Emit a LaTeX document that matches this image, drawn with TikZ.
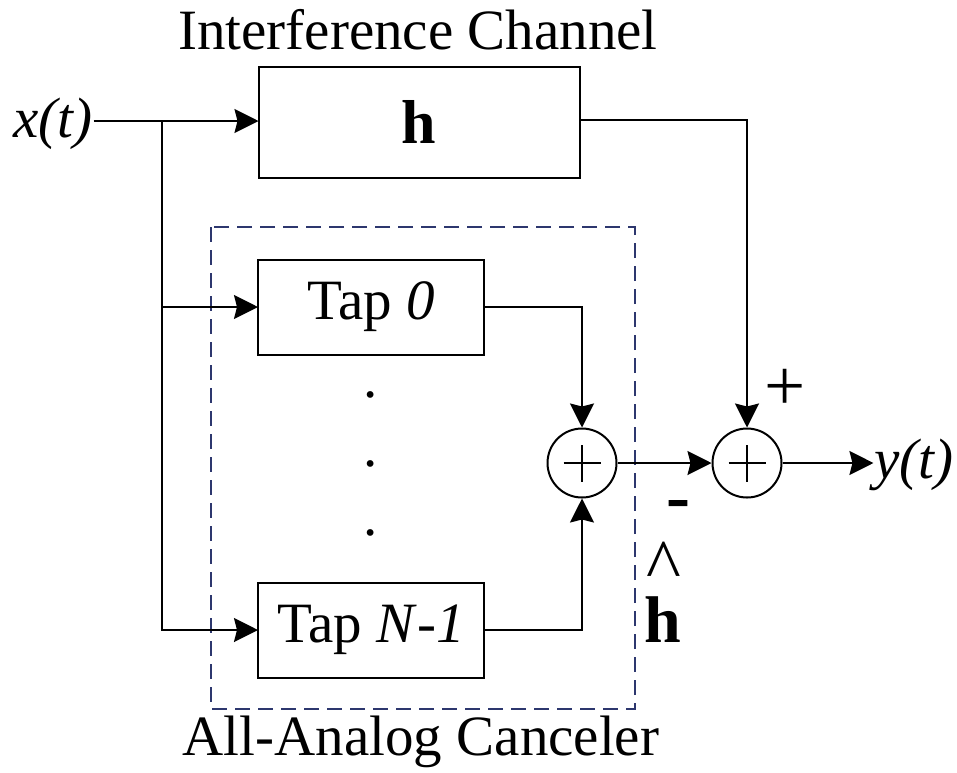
\documentclass[tikz,border=0pt]{standalone}
\usepackage{fontspec}
\setmainfont{Liberation Serif}
\usepackage{xcolor}
\usetikzlibrary{arrows.meta,positioning}
\definecolor{cancelblue}{RGB}{45,55,110}
\newcommand{\txtsize}[1]{\fontsize{#1}{#1}\selectfont}

\begin{document}
\begin{tikzpicture}[x=1pt,y=-1pt,line width=2pt,
  >={Stealth[length=24pt,width=24pt,inset=3pt]},
  font=\txtsize{57},
  blk/.style={draw,inner sep=0pt,outer sep=0pt},
  lbl/.style={inner sep=0pt,anchor=base},
  summer/.style={draw,circle,minimum size=69pt,inner sep=0pt},
  dashbox/.style={draw=cancelblue,line width=1.8pt,dash pattern=on 15pt off 8pt}]
\useasboundingbox (0,0) rectangle (957,772);
% channel and canceler blocks
\node[blk,minimum width=321pt,minimum height=111pt] (hbox) at (419,122) {\txtsize{62}\textbf{h}};
\node[lbl] (title) at (418,49) {Interference Channel};
\draw[dashbox] (211,227) rectangle (635,709);
\node[lbl] (cancel) at (421,755) {All-Analog Canceler};
\node[blk,minimum width=226pt,minimum height=95pt] (tap0) at (371,307) {Tap \textit{0}};
\node[blk,minimum width=226pt,minimum height=95pt] (tapN) at (371,630) {Tap \textit{N}-\textit{1}};
\node[inner sep=0pt] (d1) at (371,395) {.};
\node[inner sep=0pt] (d2) at (371,464) {.};
\node[inner sep=0pt] (d3) at (371,533) {.};
\node[summer] (sum1) at (582,463) {};
\node[summer] (sum2) at (747,463) {};
\foreach \s in {sum1,sum2}
  \draw[line width=2.4pt] ([xshift=-18.5pt]\s.center)--([xshift=18.5pt]\s.center)
    ([yshift=-18.5pt]\s.center)--([yshift=18.5pt]\s.center);
% in and out
\node[lbl] (xin) at (53,137) {\textit{x(t)}};
\node[lbl] (yout) at (914,478) {\textit{y(t)}};
\coordinate (br) at (162,121);
\draw (xin.east |- br)--(br);
\draw[->] (br)--(br -| hbox.west);
\draw[->] (br)|-(tap0.west);
\draw[->] (br)|-(tapN.west);
\draw[->] (tap0.east)-|(sum1.north);
\draw[->] (tapN.east)-|(sum1.south);
\draw[->] (sum1.east)--(sum2.west);
\draw[->] (hbox.east |- 0,120)-|(sum2.north);
\draw[->] (sum2.east)--(yout.west |- sum2);
% signs
\node[lbl] (plus) at (785,410) {\txtsize{73}+};
\node[lbl] (minus) at (678,520) {\txtsize{72}\textbf{-}};
\node[lbl] (hat) at (664,590) {\txtsize{74}\textasciicircum};
\node[lbl] (hhat) at (663,642) {\txtsize{66}\textbf{h}};
\end{tikzpicture}
\end{document}
